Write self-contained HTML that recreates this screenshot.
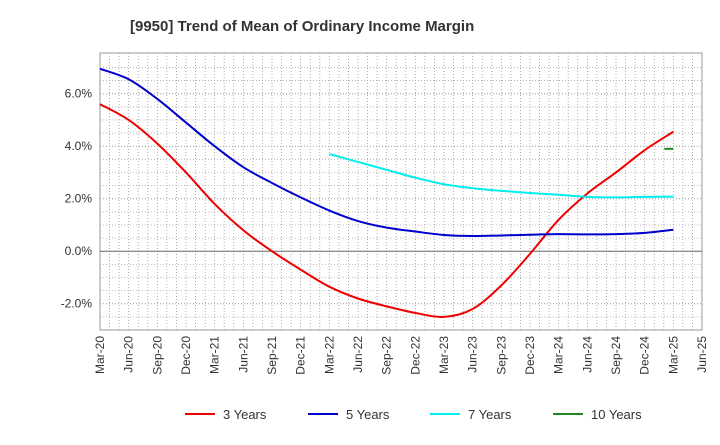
<!DOCTYPE html>
<html><head><meta charset="utf-8"><style>
body{margin:0;background:#fff;font-family:"Liberation Sans",Arial,sans-serif;}
</style></head><body>
<svg id="c" width="720" height="440" xmlns="http://www.w3.org/2000/svg">
<text x="130" y="31" font-size="15" font-weight="bold" fill="#333">[9950]  Trend of Mean of Ordinary Income Margin</text>
<g id="grid"></g><g id="axes"></g><g id="series"></g><g id="legend"></g>
</svg>
<script>
const xLabels=["Mar-20","Jun-20","Sep-20","Dec-20","Mar-21","Jun-21","Sep-21","Dec-21","Mar-22","Jun-22","Sep-22","Dec-22","Mar-23","Jun-23","Sep-23","Dec-23","Mar-24","Jun-24","Sep-24","Dec-24","Mar-25","Jun-25"];
const yTicks=[-2,0,2,4,6];
const s3=[5.6,5.0,4.1,3.0,1.8,0.8,0.0,-0.7,-1.35,-1.8,-2.1,-2.35,-2.5,-2.2,-1.3,-0.1,1.2,2.2,3.0,3.85,4.55];
const s5=[6.95,6.55,5.8,4.9,4.0,3.2,2.6,2.05,1.55,1.15,0.9,0.75,0.62,0.58,0.6,0.63,0.65,0.64,0.65,0.7,0.82];
const s7=[3.7,3.4,3.1,2.8,2.55,2.4,2.3,2.22,2.15,2.07,2.05,2.07,2.08];
const s7Start=8;
const s10=[3.9];
const s10Start=20;
const L=100,R=702,T=53,B=330,yMin=-3,yMax=7.55;
const ns="http://www.w3.org/2000/svg";
const X=i=>L+i*(R-L)/(xLabels.length-1);
const Y=v=>B-(v-yMin)/(yMax-yMin)*(B-T);
function mk(t,a,p){const e=document.createElementNS(ns,t);for(const k in a)e.setAttribute(k,a[k]);p.appendChild(e);return e;}
const g=document.getElementById('grid'),ax=document.getElementById('axes'),sg=document.getElementById('series'),lg=document.getElementById('legend');
mk('rect',{x:L,y:T,width:R-L,height:B-T,fill:'#fff',stroke:'#999'},g);
for(let m=1;m<(xLabels.length-1)*3;m++){const x=L+m*(R-L)/((xLabels.length-1)*3);
const l=mk('line',{x1:x,x2:x,y1:T,y2:B,stroke:'#999','stroke-dasharray':'1,2','stroke-width':0.8},g);
}
for(let v=-2.5;v<7.5;v+=0.5){if(Number.isInteger(v/2))continue;const y=Y(v);
mk('line',{x1:L,x2:R,y1:y,y2:y,stroke:'#aaa','stroke-dasharray':'1,2','stroke-width':0.8},g);}
yTicks.forEach(v=>{const y=Y(v);
mk('line',{x1:L,x2:R,y1:y,y2:y,stroke:v===0?'#666':'#999','stroke-dasharray':v===0?'':'1,2'},g);
const t=mk('text',{x:L-8,y:y+4,'text-anchor':'end','font-size':12,fill:'#333'},ax);t.textContent=v.toFixed(1)+'%';
});
xLabels.forEach((s,i)=>{const x=X(i);
const t=mk('text',{x:x+4,y:B+6,'text-anchor':'end','font-size':12,fill:'#333',transform:`rotate(-90 ${x+4} ${B+6})`},ax);t.textContent=s;
});
function path(arr,start){const p=arr.map((v,i)=>[X(start+i),Y(v)]);
if(p.length===1)return `M${p[0][0]-9},${p[0][1]}L${p[0][0]},${p[0][1]}`;
let d=`M${p[0][0]},${p[0][1]}`;
for(let i=0;i<p.length-1;i++){const p0=p[i-1]||p[i],p1=p[i],p2=p[i+1],p3=p[i+2]||p2;
d+=`C${p1[0]+(p2[0]-p0[0])/6},${p1[1]+(p2[1]-p0[1])/6} ${p2[0]-(p3[0]-p1[0])/6},${p2[1]-(p3[1]-p1[1])/6} ${p2[0]},${p2[1]}`;}
return d;}
const series=[[s3,0,'#e00','3 Years'],[s5,0,'#00c','5 Years'],[s7,s7Start,'#0ee','7 Years'],[s10,s10Start,'#282','10 Years']];
series.forEach(([a,st,c,n],k)=>{
const p=mk('path',{d:path(a,st),fill:'none',stroke:c,'stroke-width':2},sg);

const lx=[185,308,430,553][k];
const l=mk('line',{x1:lx,x2:lx+30,y1:414,y2:414,stroke:c,'stroke-width':2},lg);

const t=mk('text',{x:lx+38,y:419,'font-size':13,fill:'#333'},lg);t.textContent=n;
});
</script>
</body></html>
